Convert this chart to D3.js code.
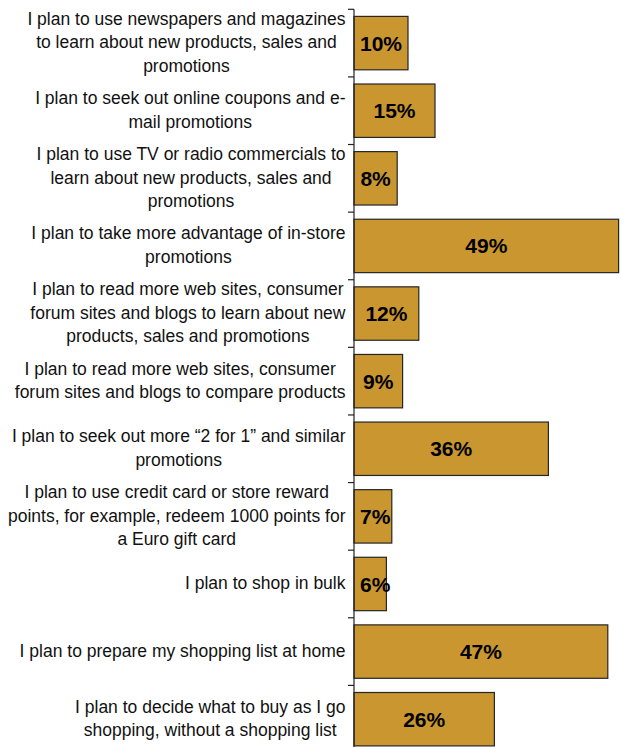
<!DOCTYPE html>
<html>
<head>
<meta charset="utf-8">
<script src="https://cdn.jsdelivr.net/npm/d3@7"></script>
<style>
  html, body { margin: 0; padding: 0; background: #fff; }
  svg { display: block; }
</style>
</head>
<body>
<svg id="chart" width="622" height="747"></svg>
<script>
// Survey statements (line breaks mark where each label wraps)
const categories = [
  "I plan to use newspapers and magazines\nto learn about new products, sales and\npromotions",
  "I plan to seek out online coupons and e-\nmail promotions",
  "I plan to use TV or radio commercials to\nlearn about new products, sales and\npromotions",
  "I plan to take more advantage of in-store\npromotions",
  "I plan to read more web sites, consumer\nforum sites and blogs to learn about new\nproducts, sales and promotions",
  "I plan to read more web sites, consumer\nforum sites and blogs to compare products",
  "I plan to seek out more \u201c2 for 1\u201d and similar\npromotions",
  "I plan to use credit card or store reward\npoints, for example, redeem 1000 points for\na Euro gift card",
  "I plan to shop in bulk",
  "I plan to prepare my shopping list at home",
  "I plan to decide what to buy as I go\nshopping, without a shopping list"
];

// Share of respondents for each statement
const shares = [0.10, 0.15, 0.08, 0.49, 0.12, 0.09, 0.36, 0.07, 0.06, 0.47, 0.26];

const data = categories.map((c, i) => ({ category: c, share: shares[i] }));

const svg = d3.select("#chart");
const axisX = 354;
const labelRight = 345.5;
const lineHeight = 23.4;

const x = d3.scaleLinear().domain([0, 0.5]).range([axisX, axisX + 270]);
const y = d3.scaleBand()
  .domain(categories)
  .range([9.3, 753])
  .paddingInner(0.21)
  .paddingOuter(0.105);

const fmt = d3.format(".0%");

// Bars
svg.append("g")
  .selectAll("rect")
  .data(data)
  .join("rect")
  .attr("x", x(0))
  .attr("y", d => y(d.category))
  .attr("width", d => x(d.share) - x(0))
  .attr("height", y.bandwidth())
  .attr("fill", "#C99630")
  .attr("stroke", "#262626")
  .attr("stroke-width", 1.2);

// Category axis: vertical line with ticks between categories
const step = y.step();
const r0 = y.range()[0];
const axisG = svg.append("g").attr("stroke", "#222").attr("stroke-width", 1.2);
axisG.append("line")
  .attr("x1", axisX).attr("x2", axisX)
  .attr("y1", r0).attr("y2", y.range()[1]);
axisG.selectAll("line.tick")
  .data(d3.range(categories.length + 1))
  .join("line")
  .attr("class", "tick")
  .attr("x1", axisX - 6).attr("x2", axisX)
  .attr("y1", i => r0 + i * step)
  .attr("y2", i => r0 + i * step);

// Category labels: wrapped lines centred within a block right-aligned to the axis
const labels = svg.append("g")
  .attr("font-family", "'Liberation Sans', Arial, sans-serif")
  .attr("font-size", 17.5)
  .attr("fill", "#111");

data.forEach(d => {
  const lines = d.category.split("\n");
  const cy = y(d.category) + y.bandwidth() / 2;
  const t = labels.append("text").attr("text-anchor", "middle");
  const spans = lines.map((ln, i) =>
    t.append("tspan")
      .attr("y", cy + (i - (lines.length - 1) / 2) * lineHeight)
      .attr("dy", "0.3em")
      .text(ln));
  const maxW = d3.max(spans, s => s.node().getComputedTextLength());
  spans.forEach(s => s.attr("x", labelRight - maxW / 2));
});

// Value labels centred in each bar
svg.append("g")
  .attr("font-family", "'Liberation Sans', Arial, sans-serif")
  .attr("font-size", 21)
  .attr("font-weight", "bold")
  .attr("fill", "#000")
  .attr("text-anchor", "middle")
  .selectAll("text")
  .data(data)
  .join("text")
  .attr("y", d => y(d.category) + y.bandwidth() / 2)
  .attr("dy", "0.36em")
  .text(d => fmt(d.share))
  .attr("x", function(d) {
    const w = this.getComputedTextLength();
    return Math.max((x(0) + x(d.share)) / 2, x(0) + 6 + w / 2);
  });
</script>
</body>
</html>
